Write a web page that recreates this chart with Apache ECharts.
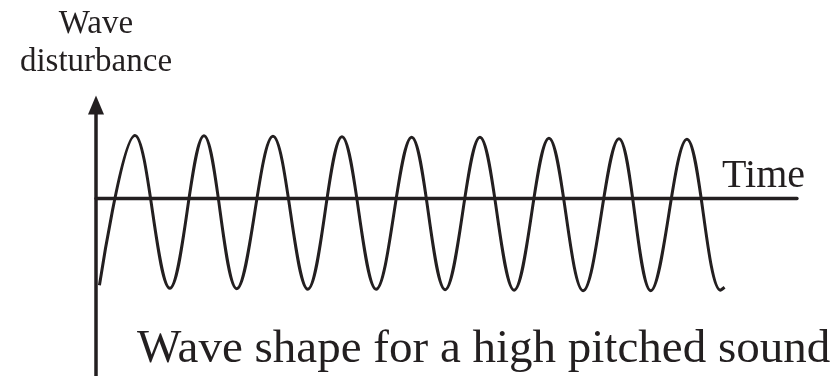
<!DOCTYPE html>
<html lang="en">
<head>
    <meta charset="UTF-8">
    <title>Wave shape</title>
    <script src="https://cdn.jsdelivr.net/npm/echarts@6/dist/echarts.min.js"></script>
    <style>
        body { margin: 0; background: #fff; }
    </style>
</head>
<body>
    <div style="width: 836px; height: 376px" id="main"></div>
    <script type="text/javascript">
        // peaks and troughs (time in periods, disturbance in arbitrary units)
        var waveTime = [0.05, 0.565, 1.07, 1.565, 2.04, 2.565, 3.07, 3.565, 4.06, 4.575,
                        5.06, 5.565, 6.06, 6.565, 7.06, 7.58, 8.04, 8.565, 9.05, 9.11]
        var waveValue = [-0.9, 0.655, -0.93, 0.65, -0.935, 0.645, -0.94, 0.64, -0.94, 0.635,
                         -0.945, 0.635, -0.95, 0.625, -0.955, 0.62, -0.955, 0.615, -0.95, -0.92]

        var xName = 'Time'
        var yName = 'Wave\ndisturbance'
        var caption = 'Wave shape for a high pitched sound'

        var ink = '#231f20'
        var serif = 'Liberation Serif'

        var seriesData = waveTime.map(function (t, i) {
            return [t, waveValue[i]]
        })

        var myChart = echarts.init(document.getElementById('main'))
        var option = {
            animation: false,
            backgroundColor: '#fff',
            title: {
                text: caption,
                left: 137,
                top: 326,
                padding: 0,
                textStyle: {
                    fontFamily: serif,
                    fontSize: 47,
                    lineHeight: 47,
                    fontWeight: 'normal',
                    color: ink
                }
            },
            grid: {
                left: 96,
                right: 39,
                top: 105,
                bottom: -10
            },
            xAxis: {
                type: 'value',
                min: 0,
                max: 10.16,
                name: xName,
                nameLocation: 'end',
                nameGap: -75,
                nameTextStyle: {
                    fontFamily: serif,
                    fontSize: 40,
                    lineHeight: 40,
                    color: ink,
                    align: 'left',
                    verticalAlign: 'bottom',
                    padding: [0, 0, 2, 0]
                },
                axisLine: {
                    show: true,
                    onZero: true,
                    lineStyle: { color: ink, width: 3.3 }
                },
                axisTick: { show: false },
                axisLabel: { show: false },
                splitLine: { show: false }
            },
            yAxis: {
                type: 'value',
                min: -1.84,
                max: 0.97,
                name: yName,
                nameLocation: 'end',
                nameGap: 24,
                nameTextStyle: {
                    fontFamily: serif,
                    fontSize: 33,
                    lineHeight: 38,
                    color: ink,
                    align: 'center',
                    verticalAlign: 'bottom'
                },
                axisLine: {
                    show: true,
                    symbol: ['none', 'triangle'],
                    symbolSize: [16, 19],
                    lineStyle: { color: ink, width: 3.5 }
                },
                axisTick: { show: false },
                axisLabel: { show: false },
                splitLine: { show: false }
            },
            series: [{
                type: 'line',
                data: seriesData,
                smooth: 0.36,
                showSymbol: false,
                lineStyle: { color: ink, width: 3 }
            }]
        }
        myChart.setOption(option)
    </script>
</body>
</html>
